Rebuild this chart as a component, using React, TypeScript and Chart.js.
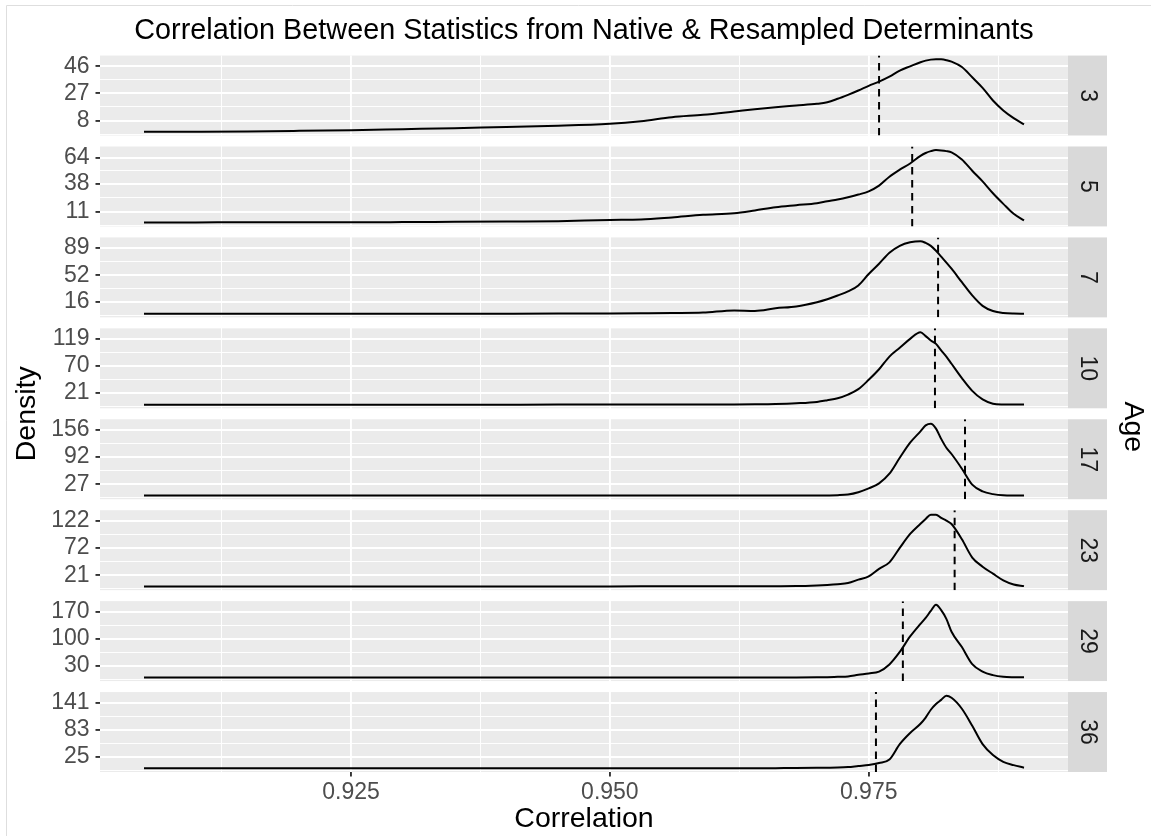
import { useEffect, useRef } from 'react';
import { Chart, registerables } from 'chart.js';

Chart.register(...registerables);

const FONT = '"Liberation Sans", Arial, Helvetica, sans-serif';
const W = 1151;
const H = 836;

// Shared correlation grid at which the densities were read
const correlationGrid = [
  0.905, 0.910, 0.915, 0.920, 0.925, 0.930, 0.935, 0.940, 0.945, 0.950,
  0.953, 0.956, 0.959, 0.962, 0.964, 0.966, 0.968,
  0.970, 0.971, 0.972, 0.973, 0.974, 0.975, 0.976, 0.977, 0.978, 0.979, 0.980,
  0.9805, 0.981, 0.9815, 0.982, 0.9825, 0.983, 0.984, 0.985, 0.986, 0.987, 0.988, 0.989, 0.990,
];

// Density of correlations per age facet
const age3 = [
  0.1, 0.15, 0.3, 0.7, 1.2, 1.9, 2.6, 3.5, 4.25, 5.65, 7.5, 10.3, 12.0, 14.3, 15.9, 17.3, 18.5,
  19.7, 20.8, 23.2, 26.0, 29.0, 32.3, 35.3, 38.8, 43.0, 46.0, 48.9,
  50.0, 50.7, 51.0, 50.9, 50.3, 49.3, 45.5, 38.3, 30.9, 22.0, 15.0, 9.6, 5.2,
];
const age5 = [
  0.2, 0.3, 0.6, 0.5, 0.5, 0.7, 1.0, 1.3, 1.6, 2.8, 3.2, 5.3, 7.8, 9.3, 12.1, 15.3, 17.3,
  19.2, 21.1, 22.8, 25.0, 27.7, 30.9, 36.5, 45.2, 52.1, 58.2, 65.7,
  68.5, 70.3, 71.3, 71.0, 70.3, 69.0, 62.0, 51.1, 40.7, 29.0, 18.6, 8.8, 2.3,
];
const age7 = [
  0.05, 0.05, 0.05, 0.05, 0.05, 0.05, 0.1, 0.1, 0.2, 0.4, 0.6, 0.9, 1.5, 4.5, 3.8, 7.3, 9.8,
  15.5, 19.5, 24.5, 30.1, 38.2, 53.5, 67.4, 82.2, 91.6, 96.4, 97.9,
  95.5, 91.5, 85.0, 77.0, 69.0, 60.7, 42.5, 24.7, 10.6, 3.6, 0.9, 0.2, 0.1,
];
const age10 = [
  0, 0, 0, 0, 0, 0, 0, 0, 0.05, 0.1, 0.15, 0.2, 0.3, 0.4, 0.65, 1.2, 2.5,
  4.9, 7.9, 11.5, 18.2, 28.0, 45.0, 64.0, 87.0, 103.0, 119.0, 131.0,
  124.0, 116.0, 110.0, 98.0, 87.0, 74.0, 48.0, 25.0, 9.5, 1.8, 0.3, 0.1, 0.1,
];
const age17 = [
  0, 0, 0, 0, 0, 0, 0, 0, 0, 0, 0, 0, 0, 0, 0.05, 0.05, 0.1,
  0.2, 0.4, 0.9, 2.5, 8.0, 17.0, 29.0, 52.0, 90.0, 126.0, 153.0,
  167.0, 171.0, 159.5, 135.0, 114.0, 99.0, 64.0, 26.0, 10.0, 3.5, 0.6, 0.1, 0.05,
];
const age23 = [
  0, 0, 0, 0, 0, 0, 0, 0, 0, 0.2, 0.25, 0.3, 0.3, 0.4, 0.5, 0.6, 0.8,
  2.0, 3.0, 4.4, 6.5, 12.8, 19.0, 33.0, 45.0, 72.0, 98.0, 117.0,
  126.0, 134.0, 134.0, 128.0, 123.0, 116.5, 88.0, 54.0, 37.0, 24.0, 11.5, 3.8, 0.7,
];
const age29 = [
  0, 0, 0, 0, 0, 0, 0, 0, 0, 0, 0, 0, 0, 0, 0.05, 0.1, 0.1,
  0.4, 0.8, 1.7, 2.6, 6.8, 10.3, 15.2, 33.6, 65.9, 106.0, 138.7,
  153.8, 172.0, 188.0, 174.0, 151.5, 118.3, 78.6, 34.4, 15.0, 6.0, 1.7, 0.5, 0.2,
];
const age36 = [
  0, 0, 0, 0, 0, 0, 0, 0, 0, 0, 0, 0, 0, 0, 0.3, 0.5, 0.7,
  1.1, 1.4, 1.8, 2.8, 5.0, 7.1, 11.4, 19.0, 52.0, 76.0, 95.7,
  109.0, 125.8, 138.0, 147.0, 156.0, 151.5, 128.0, 91.4, 52.0, 28.5, 14.0, 7.0, 1.5,
];

const ages = ['3', '5', '7', '10', '17', '23', '29', '36'];
const densities = [age3, age5, age7, age10, age17, age23, age29, age36];

// Peak density of each facet (sets the facet's y range)
const densityMax = [51, 71.3, 98, 131.5, 173, 135.5, 188, 156];

// Y tick labels per facet
const densityTicks = [
  [8, 27, 46],
  [11, 38, 64],
  [16, 52, 89],
  [21, 70, 119],
  [27, 92, 156],
  [21, 72, 122],
  [30, 100, 170],
  [25, 83, 141],
];

// Native-determinant correlation (dashed line) per facet
const nativeCorrelation = [0.9760, 0.9792, 0.9817, 0.9814, 0.9843, 0.9833, 0.9783, 0.9757];

const xMajorTicks = [0.925, 0.95, 0.975];
const xMinorTicks = [0.9125, 0.9375, 0.9625, 0.9875];
const xRange = [0.90075, 0.99425];

const PANEL_WEIGHT = 80;
const GAP_WEIGHT = 11;
const STRIP_W = 39;
const TICK_SIZE = 23;

const facetPlugin = {
  id: 'facets',
  beforeDraw(chart: any) {
    const { ctx, chartArea } = chart;
    ctx.save();
    ctx.fillStyle = '#FFFFFF';
    ctx.fillRect(0, 0, W, H);
    ctx.strokeStyle = '#DEDEDE';
    ctx.lineWidth = 1;
    ctx.beginPath();
    ctx.moveTo(6.5, H);
    ctx.lineTo(6.5, 5.5);
    ctx.lineTo(W, 5.5);
    ctx.stroke();
    ages.forEach((_, i) => {
      const s = chart.scales['y' + i];
      ctx.fillStyle = '#EBEBEB';
      ctx.fillRect(chartArea.left, s.top, chartArea.right - chartArea.left, s.bottom - s.top);
      ctx.fillStyle = '#D9D9D9';
      ctx.fillRect(chartArea.right, s.top, STRIP_W, s.bottom - s.top);
    });
    ctx.restore();
  },
  afterDraw(chart: any) {
    const { ctx, chartArea } = chart;
    ctx.save();
    ctx.textAlign = 'center';
    ctx.textBaseline = 'middle';
    ctx.fillStyle = '#1A1A1A';
    ctx.font = `${TICK_SIZE}px ${FONT}`;
    ages.forEach((a, i) => {
      const s = chart.scales['y' + i];
      ctx.save();
      ctx.translate(chartArea.right + STRIP_W / 2, (s.top + s.bottom) / 2);
      ctx.rotate(Math.PI / 2);
      ctx.fillText(a, 0, 0);
      ctx.restore();
    });
    ctx.fillStyle = '#000000';
    ctx.font = `28.5px ${FONT}`;
    const midY = (chartArea.top + chartArea.bottom) / 2;
    ctx.save();
    ctx.translate(27, midY);
    ctx.rotate(-Math.PI / 2);
    ctx.fillText('Density', 0, 0);
    ctx.restore();
    ctx.save();
    ctx.translate(1133, midY + 13);
    ctx.rotate(Math.PI / 2);
    ctx.fillText('Age', 0, 0);
    ctx.restore();
    ctx.restore();
  },
};

function buildScales() {
  const isMajorX = (c: any) => !!c.tick && xMajorTicks.includes(c.tick.value);
  const scales: any = {
    x: {
      type: 'linear',
      position: 'bottom',
      min: xRange[0],
      max: xRange[1],
      afterBuildTicks: (s: any) => {
        s.ticks = [...xMinorTicks, ...xMajorTicks].sort((a, b) => a - b).map((v) => ({ value: v }));
      },
      afterFit: (s: any) => {
        s.height = 64;
      },
      grid: {
        color: '#FFFFFF',
        lineWidth: (c: any) => (isMajorX(c) ? 1.9 : 0.95),
        tickColor: (c: any) => (isMajorX(c) ? '#333333' : 'rgba(0,0,0,0)'),
        tickLength: 4.5,
        tickWidth: 1.9,
      },
      border: { display: false },
      ticks: {
        autoSkip: false,
        maxRotation: 0,
        padding: 2,
        color: '#4D4D4D',
        font: { family: FONT, size: TICK_SIZE },
        callback: (v: any) => (xMajorTicks.includes(v) ? Number(v).toFixed(3) : ''),
      },
      title: {
        display: true,
        text: 'Correlation',
        color: '#000000',
        font: { family: FONT, size: 28.5 },
        padding: { top: 0, bottom: 0 },
      },
    },
  };

  densityTicks.forEach((majors, i) => {
    const M = densityMax[i];
    const lo = -0.05 * M;
    const hi = 1.05 * M;
    const step = (majors[2] - majors[0]) / 2;
    const minors = [
      majors[0] - step / 2,
      (majors[0] + majors[1]) / 2,
      (majors[1] + majors[2]) / 2,
      majors[2] + step / 2,
    ].filter((v) => v >= lo && v <= hi);
    const all = [...minors, ...majors].sort((a, b) => a - b);
    const isMajor = (c: any) => !!c.tick && majors.includes(c.tick.value);
    scales['y' + i] = {
      type: 'linear',
      position: 'left',
      stack: 'facets',
      stackWeight: PANEL_WEIGHT,
      weight: 100 - 2 * i,
      min: lo,
      max: hi,
      afterBuildTicks: (s: any) => {
        s.ticks = all.map((v) => ({ value: v }));
      },
      afterFit: (s: any) => {
        s.width = 80;
      },
      grid: {
        color: '#FFFFFF',
        lineWidth: (c: any) => (isMajor(c) ? 1.9 : 0.95),
        tickColor: (c: any) => (isMajor(c) ? '#333333' : 'rgba(0,0,0,0)'),
        tickLength: 4.5,
        tickWidth: 1.9,
      },
      border: { display: false },
      ticks: {
        autoSkip: false,
        padding: 6,
        color: '#4D4D4D',
        font: { family: FONT, size: TICK_SIZE },
        callback: (v: any) => (majors.includes(v) ? String(v) : ''),
      },
    };
    if (i < densityTicks.length - 1) {
      scales['gap' + i] = {
        type: 'linear',
        position: 'left',
        stack: 'facets',
        stackWeight: GAP_WEIGHT,
        weight: 100 - 2 * i - 1,
        min: 0,
        max: 1,
        display: true,
        ticks: { display: false },
        grid: { display: false },
        border: { display: false },
        afterFit: (s: any) => {
          s.width = 80;
        },
      };
    }
  });
  return scales;
}

function buildDatasets() {
  const datasets: any[] = [];
  densities.forEach((d, i) => {
    const M = densityMax[i];
    datasets.push({
      type: 'line',
      label: 'Age ' + ages[i],
      data: correlationGrid.map((x, j) => ({ x, y: d[j] })),
      xAxisID: 'x',
      yAxisID: 'y' + i,
      borderColor: '#000000',
      borderWidth: 2,
      pointRadius: 0,
      fill: false,
      cubicInterpolationMode: 'monotone',
    });
    datasets.push({
      type: 'line',
      label: 'Native ' + ages[i],
      data: [
        { x: nativeCorrelation[i], y: -0.05 * M },
        { x: nativeCorrelation[i], y: 1.05 * M },
      ],
      xAxisID: 'x',
      yAxisID: 'y' + i,
      borderColor: '#000000',
      borderWidth: 2,
      borderDash: [7.5, 5.5],
      pointRadius: 0,
      fill: false,
    });
  });
  return datasets;
}

export default function App() {
  const ref = useRef<HTMLCanvasElement>(null);
  useEffect(() => {
    const canvas = ref.current;
    if (!canvas) return;
    const chart = new Chart(canvas, {
      type: 'line',
      data: { datasets: buildDatasets() },
      options: {
        animation: false,
        responsive: false,
        maintainAspectRatio: false,
        devicePixelRatio: 1,
        layout: { padding: { left: 20, right: 83, top: 0, bottom: 0 } },
        scales: buildScales(),
        plugins: {
          legend: { display: false },
          tooltip: { enabled: false },
          title: {
            display: true,
            fullSize: false,
            text: 'Correlation Between Statistics from Native & Resampled Determinants',
            color: '#000000',
            font: { family: FONT, size: 28.8, weight: 'normal' },
            padding: { top: 14, bottom: 7 },
          },
        },
      } as any,
      plugins: [facetPlugin],
    });
    return () => chart.destroy();
  }, []);
  return (
    <div style={{ position: 'absolute', left: 0, top: 0, width: W, height: H }}>
      <canvas ref={ref} width={W} height={H} style={{ width: W, height: H, display: 'block' }} />
    </div>
  );
}
